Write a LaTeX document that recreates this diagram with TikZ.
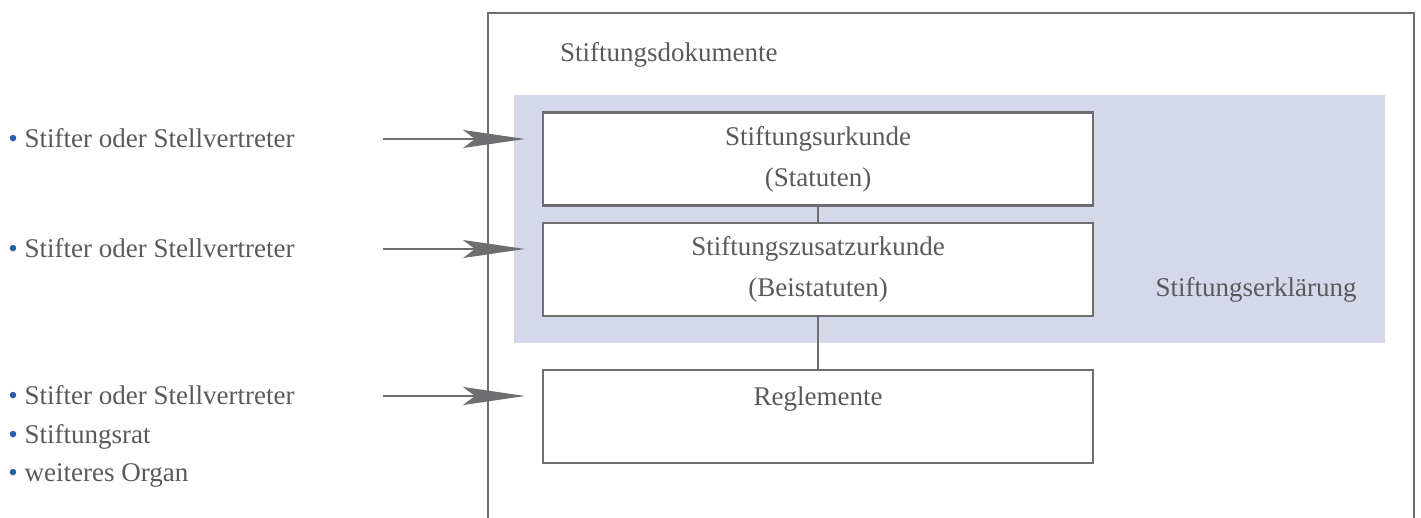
\documentclass[tikz,border=0pt]{standalone}
\usepackage{fontspec}
\setmainfont{Liberation Serif}
\usetikzlibrary{arrows.meta}

\definecolor{linegray}{HTML}{6E6E70}
\definecolor{textgray}{HTML}{5A5A5C}
\definecolor{bandblue}{HTML}{D5D7EB}
\definecolor{dotblue}{HTML}{2B5DAA}
\newcommand{\blt}{\textcolor{dotblue}{\textbullet}~}

\begin{document}
\begin{tikzpicture}[x=0.5pt,y=-0.5pt,
    font=\fontsize{13.5}{20.5}\selectfont, text=textgray]

  \useasboundingbox (0,0) rectangle (1421,518);

  % outer frame, open at the bottom
  \coordinate (fbl) at (488,518);
  \coordinate (ftl) at (488,13);
  \coordinate (ftr) at (1414,13);
  \coordinate (fbr) at (1414,518);
  \draw[linegray, line width=1pt] (fbl) -- (ftl) -- (ftr) -- (fbr);

  \node[anchor=base west] (dok) at (553,62) {Stiftungsdokumente};

  \node[fill=bandblue, inner sep=0pt, minimum width=435.5pt,
    minimum height=124pt] (band) at (949.5,219) {};
  \node[anchor=base] (erkl) at (1256,297) {Stiftungserklärung};

  \begin{scope}[every node/.style={draw=linegray, line width=1.2pt,
      fill=white, align=center, minimum width=275pt,
      minimum height=46.5pt, inner sep=0pt}]
    \node (urk) at (818,159)   {Stiftungsurkunde\\(Statuten)};
    \node (zus) at (818,269.5) {Stiftungszusatzurkunde\\(Beistatuten)};
    \node (reg) at (818,416.5) {Reglemente\\\mbox{}};
  \end{scope}

  \draw[linegray, line width=1pt] (urk) -- (zus);
  \draw[linegray, line width=1pt] (zus) -- (reg);

  \begin{scope}[every node/.style={anchor=base west, inner sep=0pt}]
    \node (st1) at (8,148)   {\blt Stifter oder Stellvertreter};
    \node (st2) at (8,258)   {\blt Stifter oder Stellvertreter};
    \node (st3) at (8,405)   {\blt Stifter oder Stellvertreter};
    \node (rat) at (8,443.5) {\blt Stiftungsrat};
    \node (org) at (8,482)   {\blt weiteres Organ};
  \end{scope}

  \coordinate (a1s) at (383,139);
  \coordinate (a1e) at (525,139);
  \coordinate (a2s) at (383,249);
  \coordinate (a2e) at (525,249);
  \coordinate (a3s) at (383,396);
  \coordinate (a3e) at (525,396);

  \begin{scope}[every edge/.style={draw=linegray, line width=1pt,
      -{Stealth[length=31pt, width=9pt, inset=6pt]}}]
    \path (a1s) edge (a1e);
    \path (a2s) edge (a2e);
    \path (a3s) edge (a3e);
  \end{scope}

\end{tikzpicture}
\end{document}
